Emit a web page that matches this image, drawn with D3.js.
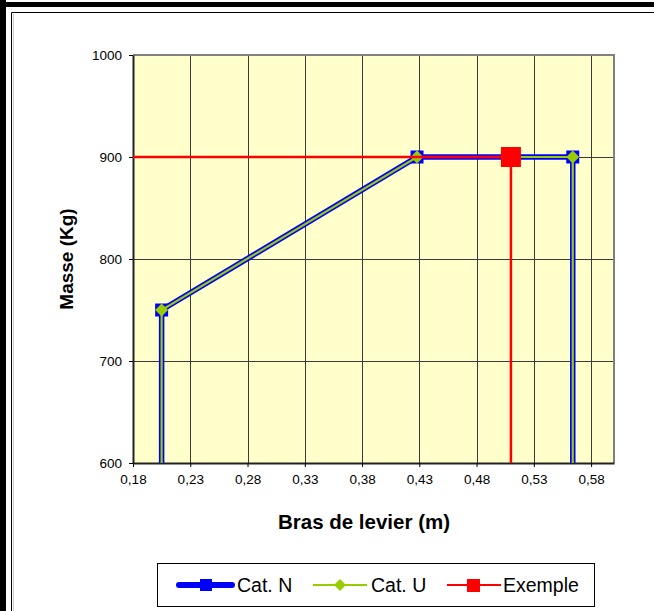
<!DOCTYPE html>
<html>
<head>
<meta charset="utf-8">
<script src="https://cdn.jsdelivr.net/npm/d3@7"></script>
<style>
  body { margin: 0; background: #fff; }
  svg text { font-family: Arial, "Liberation Sans", sans-serif; }
</style>
</head>
<body>
<svg id="chart"></svg>
<script>
// data
const catNx = [0.205, 0.205, 0.428, 0.564, 0.564];
const catNy = [600, 750, 900, 900, 600];
const catUx = [0.205, 0.205, 0.428, 0.564, 0.564];
const catUy = [600, 750, 900, 900, 600];
const exX = [0.18, 0.51, 0.51];
const exY = [900, 900, 600];
const xTicks = [0.18, 0.23, 0.28, 0.33, 0.38, 0.43, 0.48, 0.53, 0.58];
const yTicks = [600, 700, 800, 900, 1000];
const legendNames = ["Cat. N", "Cat. U", "Exemple"];

const W = 654, H = 611;
const svg = d3.select("#chart").attr("width", W).attr("height", H);

// outer frame (spreadsheet edges)
svg.append("rect").attr("x", 0).attr("y", 2).attr("width", W).attr("height", 5).attr("fill", "#000");
svg.append("rect").attr("x", 0).attr("y", 0).attr("width", 6).attr("height", H).attr("fill", "#000");
svg.append("line").attr("x1", 11.5).attr("x2", W).attr("y1", 12.5).attr("y2", 12.5).attr("stroke", "#000");
svg.append("line").attr("x1", 11.5).attr("x2", 11.5).attr("y1", 12.5).attr("y2", H).attr("stroke", "#000");
svg.append("line").attr("x1", 13.5).attr("x2", 13.5).attr("y1", 14).attr("y2", H).attr("stroke", "#ccc");

// scales
const x = d3.scaleLinear().domain([0.18, 0.60]).range([133, 614]);
const y = d3.scaleLinear().domain([600, 1000]).range([463, 55]);

// plot background
svg.append("rect")
  .attr("x", x(0.18)).attr("y", y(1000))
  .attr("width", x(0.60) - x(0.18)).attr("height", y(600) - y(1000))
  .attr("fill", "#ffffcc");

// grid
svg.append("g").selectAll("line").data(xTicks.slice(1)).enter().append("line")
  .attr("x1", d => Math.round(x(d)) + 0.5).attr("x2", d => Math.round(x(d)) + 0.5)
  .attr("y1", y(1000)).attr("y2", y(600))
  .attr("stroke", "#3a3a3a").attr("stroke-width", 1);
svg.append("g").selectAll("line").data(yTicks.slice(1, -1)).enter().append("line")
  .attr("x1", x(0.18)).attr("x2", x(0.60))
  .attr("y1", d => Math.round(y(d)) + 0.5).attr("y2", d => Math.round(y(d)) + 0.5)
  .attr("stroke", "#3a3a3a").attr("stroke-width", 1);

// plot border top/right (grey)
svg.append("path")
  .attr("d", `M${x(0.18)},${y(1000)}H${x(0.60)}V${y(600)}`)
  .attr("fill", "none").attr("stroke", "#808080").attr("stroke-width", 2);

// axes
const fmt = d => d3.format(".2f")(d).replace(".", ",");
const xAxis = svg.append("g")
  .attr("transform", `translate(0,${y(600)})`)
  .call(d3.axisBottom(x).tickValues(xTicks).tickFormat(fmt).tickSize(4).tickSizeOuter(0).tickPadding(7));
const yAxis = svg.append("g")
  .attr("transform", `translate(${x(0.18)},0)`)
  .call(d3.axisLeft(y).tickValues(yTicks).tickFormat(d3.format("d")).tickSize(4).tickSizeOuter(0).tickPadding(7));
[xAxis, yAxis].forEach(a => {
  a.select(".domain").attr("stroke", "#222").attr("stroke-width", 2);
  a.selectAll("line").attr("stroke", "#000");
  a.selectAll("text").attr("font-size", 13.5).attr("fill", "#000")
    .attr("font-family", "Arial, 'Liberation Sans', sans-serif");
});

// lines
const pts = (xs, ys) => xs.map((v, i) => ({ x: v, y: ys[i] }));
const line = d3.line().x(d => x(d.x)).y(d => y(d.y));
const catN = pts(catNx, catNy), catU = pts(catUx, catUy), ex = pts(exX, exY);

svg.append("path").datum(catN).attr("d", line)
  .attr("fill", "none").attr("stroke", "#0000ff").attr("stroke-width", 5.5);
svg.selectAll(".mN").data(catN.filter(d => d.y > 600)).enter().append("rect")
  .attr("x", d => x(d.x) - 6.5).attr("y", d => y(d.y) - 6.5)
  .attr("width", 13).attr("height", 13).attr("fill", "#0000ff");

svg.append("path").datum(catU).attr("d", line)
  .attr("fill", "none").attr("stroke", "#99cc00").attr("stroke-width", 2.2);
svg.selectAll(".mU").data(catU.filter(d => d.y > 600)).enter().append("path")
  .attr("transform", d => `translate(${x(d.x)},${y(d.y)})`)
  .attr("d", "M0,-6.5L6.5,0L0,6.5L-6.5,0Z").attr("fill", "#99cc00");

svg.append("path").datum(ex).attr("d", line)
  .attr("fill", "none").attr("stroke", "#ff0000").attr("stroke-width", 2.5);
svg.selectAll(".mE").data(ex.slice(1, 2)).enter().append("rect")
  .attr("x", d => x(d.x) - 10).attr("y", d => y(d.y) - 10)
  .attr("width", 20).attr("height", 20).attr("fill", "#ff0000");

// axis titles
svg.append("text")
  .attr("x", 364).attr("y", 529).attr("text-anchor", "middle")
  .attr("font-size", 20.5).attr("font-weight", "bold").text("Bras de levier (m)");
svg.append("text")
  .attr("transform", `translate(73,${(y(600) + y(1000)) / 2}) rotate(-90)`)
  .attr("text-anchor", "middle")
  .attr("font-size", 19).attr("font-weight", "bold").text("Masse (Kg)");

// legend
const lg = svg.append("g");
lg.append("rect").attr("x", 157.5).attr("y", 563.5).attr("width", 437).attr("height", 43)
  .attr("fill", "#fff").attr("stroke", "#000");
const lx = [179, 313, 447];
const tx = [237, 371, 503];
const ly = 585;
// Cat. N
lg.append("line").attr("x1", lx[0]).attr("x2", lx[0] + 53).attr("y1", ly).attr("y2", ly)
  .attr("stroke", "#0000ff").attr("stroke-width", 6).attr("stroke-linecap", "round");
lg.append("rect").attr("x", lx[0] + 21).attr("y", ly - 6).attr("width", 12).attr("height", 12).attr("fill", "#0000ff");
// Cat. U
lg.append("line").attr("x1", lx[1]).attr("x2", lx[1] + 54).attr("y1", ly).attr("y2", ly)
  .attr("stroke", "#99cc00").attr("stroke-width", 2);
lg.append("path").attr("transform", `translate(${lx[1] + 27},${ly})`)
  .attr("d", "M0,-6L6,0L0,6L-6,0Z").attr("fill", "#99cc00");
// Exemple
lg.append("line").attr("x1", lx[2]).attr("x2", lx[2] + 54).attr("y1", ly).attr("y2", ly)
  .attr("stroke", "#ff0000").attr("stroke-width", 2);
lg.append("rect").attr("x", lx[2] + 20).attr("y", ly - 6).attr("width", 13).attr("height", 13).attr("fill", "#ff0000");

lg.selectAll(".lt").data(legendNames).enter().append("text")
  .attr("x", (d, i) => tx[i]).attr("y", ly + 7)
  .attr("font-size", 19.5).text(d => d);
</script>
</body>
</html>
